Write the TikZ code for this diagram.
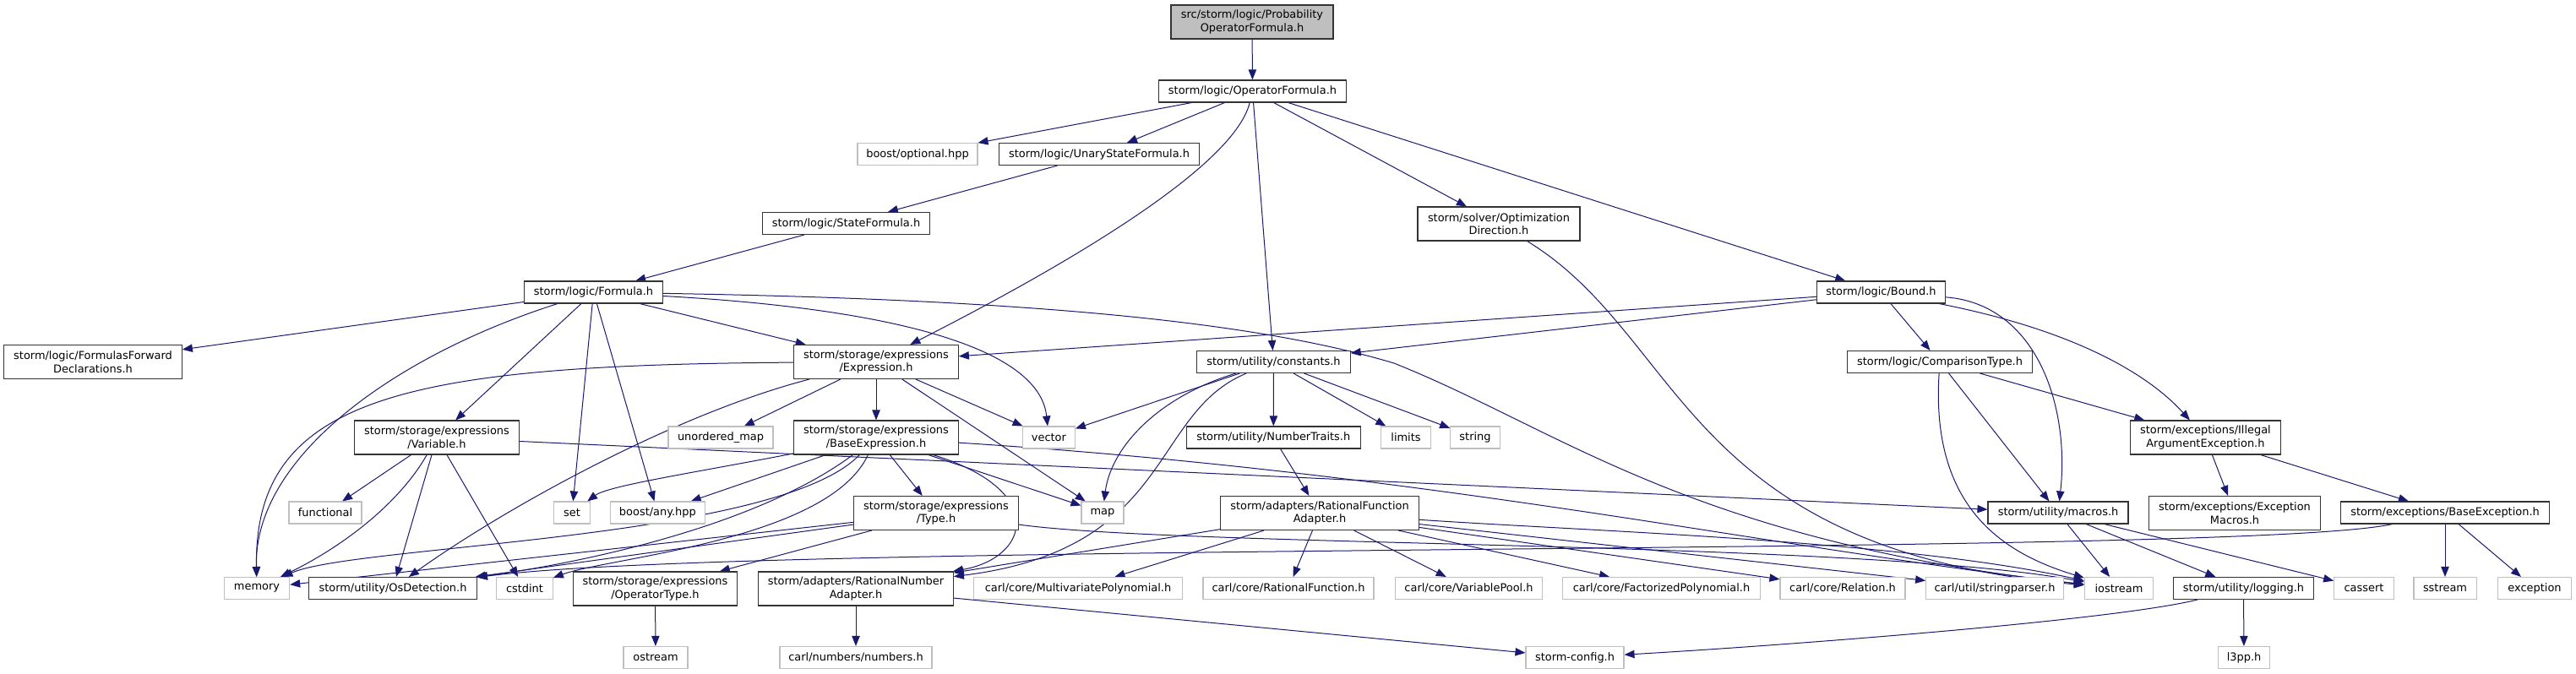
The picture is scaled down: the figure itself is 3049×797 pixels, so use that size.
\documentclass[tikz,border=0pt]{standalone}
\usepackage{fontspec}
\setmainfont{DejaVu Sans}
\usetikzlibrary{arrows.meta,backgrounds}
\definecolor{edgeblue}{HTML}{191970}
\definecolor{sysgray}{HTML}{BFBFBF}
\begin{document}
\begin{tikzpicture}[
        x=0.75pt,
        y=-0.75pt,
        font=\fontsize{9.7}{11.7}\selectfont,
        >={Triangle[length=9pt,width=7pt]},
        box/.style={draw, fill=white, inner sep=1pt, align=center,
            minimum height=19.5pt, line width=0.8pt},
        hdr/.style={box, draw=black!80},
        sys/.style={box, draw=sysgray},
        rootbox/.style={hdr, fill=sysgray},
        two/.style={minimum height=30pt},
        dep/.style={->, color=edgeblue, line width=0.75pt}
    ]

    \useasboundingbox (0,0) rectangle (3049,797);

    % Rank 0 and 1
    \node[rootbox, two, minimum width=144pt] (root) at (1482,26) {src/storm/logic/Probability\\OperatorFormula.h};
    \node[hdr, minimum width=166pt] (opf) at (1482.5,108) {storm/logic/OperatorFormula.h};

    % Rank 2
    \node[sys, minimum width=106.5pt] (optional) at (1086,182.5) {boost/optional.hpp};
    \node[hdr, minimum width=178pt] (unary) at (1301,182.5) {storm/logic/UnaryStateFormula.h};

    % Rank 3
    \node[hdr, minimum width=149pt] (stateform) at (1001.5,264.5) {storm/logic/StateFormula.h};
    \node[hdr, two, minimum width=144pt] (optdir) at (1774,265) {storm/solver/Optimization\\Direction.h};

    % Rank 4
    \node[hdr, minimum width=123pt] (formula) at (702.5,346) {storm/logic/Formula.h};
    \node[hdr, minimum width=114pt] (bound) at (2226.5,346) {storm/logic/Bound.h};

    % Rank 5
    \node[hdr, two, minimum width=158pt] (ffd) at (110,428.5) {storm/logic/FormulasForward\\Declarations.h};
    \node[hdr, two, minimum width=146pt] (expr) at (1037,428.5) {storm/storage/expressions\\/Expression.h};
    \node[hdr, minimum width=136pt] (constants) at (1507.5,428.5) {storm/utility/constants.h};
    \node[hdr, minimum width=164pt] (comptype) at (2296,428.5) {storm/logic/ComparisonType.h};

    % Rank 6
    \node[hdr, two, minimum width=146pt] (variable) at (517,518) {storm/storage/expressions\\/Variable.h};
    \node[sys, minimum width=93pt] (umap) at (853,518) {unordered\_map};
    \node[hdr, two, minimum width=146pt] (baseexpr) at (1037,518) {storm/storage/expressions\\/BaseExpression.h};
    \node[sys, minimum width=46.5pt] (vector) at (1241.4,518) {vector};
    \node[hdr, minimum width=154.5pt] (numtraits) at (1507.3,518) {storm/utility/NumberTraits.h};
    \node[sys, minimum width=44pt] (limits) at (1664,518) {limits};
    \node[sys, minimum width=44pt] (string) at (1746,518) {string};
    \node[hdr, two, minimum width=134pt] (illegal) at (2610.4,518) {storm/exceptions/Illegal\\ArgumentException.h};

    % Rank 7
    \node[sys, minimum width=64.5pt] (functional) at (385,607) {functional};
    \node[sys, minimum width=32pt] (set) at (677,607) {set};
    \node[sys, minimum width=84pt] (anyhpp) at (778.4,607) {boost/any.hpp};
    \node[hdr, two, minimum width=146pt] (type) at (1108,607.5) {storm/storage/expressions\\/Type.h};
    \node[sys, minimum width=37.5pt] (map) at (1305,607) {map};
    \node[hdr, two, minimum width=176pt] (rfa) at (1562,607.5) {storm/adapters/RationalFunction\\Adapter.h};
    \node[hdr, minimum width=124.5pt] (macros) at (2436,607) {storm/utility/macros.h};
    \node[hdr, two, minimum width=152pt] (excmacros) at (2645,607.5) {storm/exceptions/Exception\\Macros.h};
    \node[hdr, minimum width=185pt] (baseexc) at (2894,607) {storm/exceptions/BaseException.h};

    % Rank 8
    \node[sys, minimum width=58pt] (memory) at (304,696.5) {memory};
    \node[hdr, minimum width=149pt] (osdet) at (465,696.5) {storm/utility/OsDetection.h};
    \node[sys, minimum width=50pt] (cstdint) at (621,696.5) {cstdint};
    \node[hdr, two, minimum width=145.5pt] (optype) at (775.5,697) {storm/storage/expressions\\/OperatorType.h};
    \node[hdr, two, minimum width=173pt] (rna) at (1013,697) {storm/adapters/RationalNumber\\Adapter.h};
    \node[sys, minimum width=185pt] (multipoly) at (1276,696.5) {carl/core/MultivariatePolynomial.h};
    \node[sys, minimum width=151.5pt] (ratfunc) at (1525,696.5) {carl/core/RationalFunction.h};
    \node[sys, minimum width=131pt] (varpool) at (1738.5,696.5) {carl/core/VariablePool.h};
    \node[sys, minimum width=175.5pt] (factpoly) at (1966.5,696.5) {carl/core/FactorizedPolynomial.h};
    \node[sys, minimum width=111pt] (relation) at (2181,696.5) {carl/core/Relation.h};
    \node[sys, minimum width=122pt] (stringparser) at (2361,696.5) {carl/util/stringparser.h};
    \node[sys, minimum width=61pt] (iostream) at (2508,696.5) {iostream};
    \node[hdr, minimum width=125pt] (logging) at (2655.5,696.5) {storm/utility/logging.h};
    \node[sys, minimum width=53pt] (cassert) at (2798,696.5) {cassert};
    \node[sys, minimum width=55.5pt] (sstream) at (2894,696.5) {sstream};
    \node[sys, minimum width=65pt] (exception) at (3000,696.5) {exception};

    % Rank 9
    \node[sys, minimum width=57pt] (ostream) at (776,778.5) {ostream};
    \node[sys, minimum width=135pt] (numbers) at (1013,778.5) {carl/numbers/numbers.h};
    \node[sys, minimum width=87pt] (stormconfig) at (1864,778.5) {storm-config.h};
    \node[sys, minimum width=46pt] (l3pp) at (2656,778.5) {l3pp.h};

    \begin{pgfonlayer}{background}
    % Operator formula
    \draw[dep] (root) -- (opf);
    \draw[dep] (opf) -- (optional);
    \draw[dep] (opf) -- (unary);
    \draw[dep] (opf) .. controls (1460,200) and (1250,320) .. (expr);
    \draw[dep] (opf) -- (constants);
    \draw[dep] (opf) -- (optdir);
    \draw[dep] (opf) -- (bound);
    \draw[dep] (unary) -- (stateform);
    \draw[dep] (stateform) -- (formula);
    \draw[dep] (optdir) .. controls (1995,400) and (1990,650) .. (iostream);

    % Formula
    \draw[dep] (formula) -- (ffd);
    \draw[dep] (formula) .. controls (470,420) and (300,540) .. (memory);
    \draw[dep] (formula) -- (variable);
    \draw[dep] (formula) -- (set);
    \draw[dep] (formula) -- (anyhpp);
    \draw[dep] (formula) -- (expr);
    \draw[dep] (formula) .. controls (1050,365) and (1230,410) .. (vector);
    \draw[dep] (formula) .. controls (1250,355) and (1500,385) .. (1650,430)
        .. controls (1850,510) and (2000,640) .. (iostream);

    % Bound
    \draw[dep] (bound) -- (expr);
    \draw[dep] (bound) -- (constants);
    \draw[dep] (bound) -- (comptype);
    \draw[dep] (bound) .. controls (2410,360) and (2450,480) .. (macros);
    \draw[dep] (bound) .. controls (2450,390) and (2540,440) .. (illegal);
    \draw[dep] (comptype) -- (illegal);
    \draw[dep] (comptype) -- (macros);
    \draw[dep] (comptype) .. controls (2285,600) and (2370,655) .. (iostream);

    % Expression
    \draw[dep] (expr) .. controls (480,432) and (300,470) .. (memory);
    \draw[dep] (expr) .. controls (800,490) and (600,600) .. (osdet);
    \draw[dep] (expr) -- (umap);
    \draw[dep] (expr) -- (baseexpr);
    \draw[dep] (expr) -- (vector);
    \draw[dep] (expr) -- (map);

    % Constants
    \draw[dep] (constants) -- (vector);
    \draw[dep] (constants) .. controls (1370,470) and (1315,530) .. (map);
    \draw[dep] (constants) .. controls (1360,490) and (1390,650) .. (rna);
    \draw[dep] (constants) -- (numtraits);
    \draw[dep] (constants) -- (limits);
    \draw[dep] (constants) -- (string);
    \draw[dep] (numtraits) -- (rfa);

    % Variable
    \draw[dep] (variable) -- (functional);
    \draw[dep] (variable) .. controls (470,600) and (400,650) .. (memory);
    \draw[dep] (variable) -- (osdet);
    \draw[dep] (variable) -- (cstdint);
    \draw[dep] (variable) -- (macros);

    % Base expression
    \draw[dep] (baseexpr) .. controls (820,560) and (720,575) .. (set);
    \draw[dep] (baseexpr) -- (anyhpp);
    \draw[dep] (baseexpr) .. controls (900,620) and (700,665) .. (osdet);
    \draw[dep] (baseexpr) .. controls (920,640) and (420,645) .. (memory);
    \draw[dep] (baseexpr) .. controls (980,640) and (720,660) .. (cstdint);
    \draw[dep] (baseexpr) -- (type);
    \draw[dep] (baseexpr) -- (map);
    \draw[dep] (baseexpr) .. controls (1240,580) and (1220,660) .. (rna);
    \draw[dep] (baseexpr) .. controls (1700,560) and (2100,650) .. (iostream);

    % Type
    \draw[dep] (type) -- (memory);
    \draw[dep] (type) -- (osdet);
    \draw[dep] (type) -- (optype);
    \draw[dep] (type) .. controls (1400,648) and (2200,640) .. (iostream);
    \draw[dep] (optype) -- (ostream);

    % Rational adapters
    \draw[dep] (rfa) -- (rna);
    \draw[dep] (rfa) -- (multipoly);
    \draw[dep] (rfa) -- (ratfunc);
    \draw[dep] (rfa) -- (varpool);
    \draw[dep] (rfa) -- (factpoly);
    \draw[dep] (rfa) -- (relation);
    \draw[dep] (rfa) -- (stringparser);
    \draw[dep] (rfa) .. controls (1900,630) and (2250,640) .. (iostream);
    \draw[dep] (rna) -- (numbers);
    \draw[dep] (rna) -- (stormconfig);

    % Exceptions and macros
    \draw[dep] (illegal) -- (excmacros);
    \draw[dep] (illegal) -- (baseexc);
    \draw[dep] (baseexc) .. controls (2650,660) and (900,640) .. (osdet);
    \draw[dep] (baseexc) -- (sstream);
    \draw[dep] (baseexc) -- (exception);
    \draw[dep] (macros) -- (iostream);
    \draw[dep] (macros) -- (logging);
    \draw[dep] (macros) -- (cassert);
    \draw[dep] (logging) -- (l3pp);
    \draw[dep] (logging) .. controls (2500,735) and (2100,765) .. (stormconfig);
    \end{pgfonlayer}

\end{tikzpicture}
\end{document}
